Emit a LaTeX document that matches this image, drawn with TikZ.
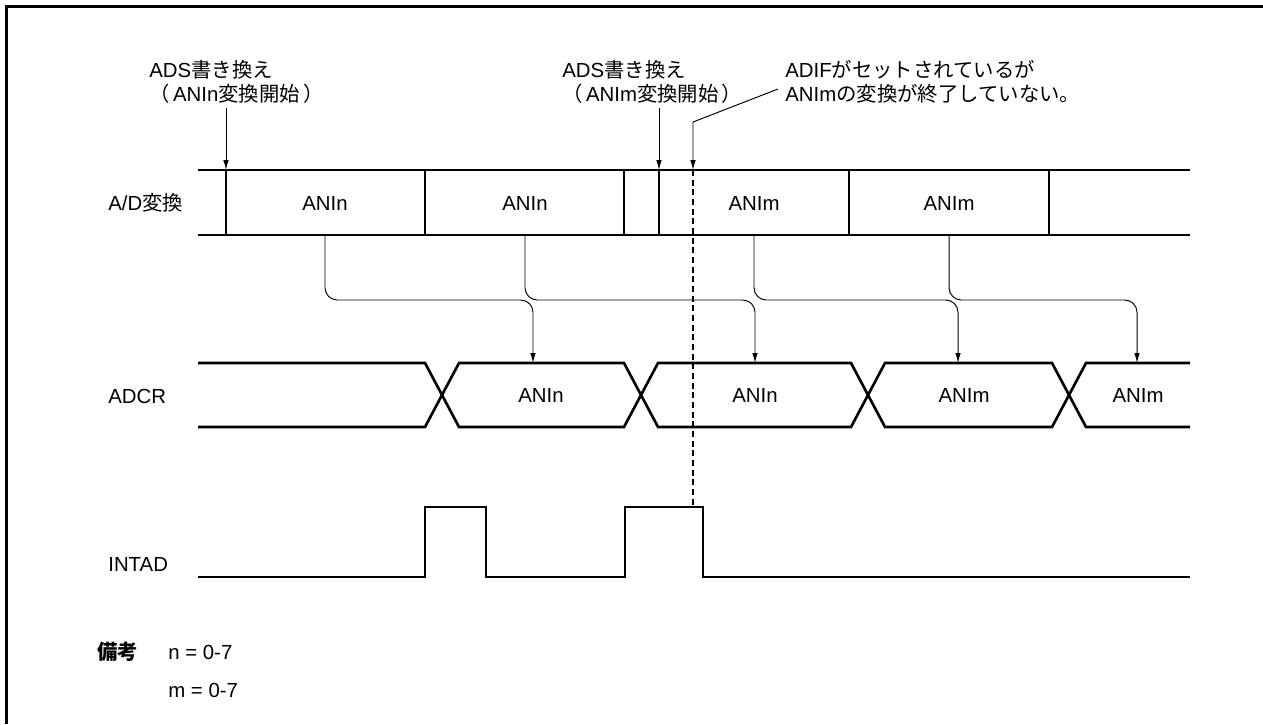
\documentclass[tikz,border=0pt]{standalone}
\usepackage{fontspec}
\setmainfont{Liberation Sans}
\newfontfamily\jp{Noto Sans CJK JP}
\usetikzlibrary{arrows.meta}

\begin{document}
\begin{tikzpicture}[
  x=0.02cm, y=-0.02cm,
  every node/.style={font=\fontsize{11.6}{13.8}\selectfont, inner sep=0pt},
  lbl/.style={anchor=west, align=left},
  sig/.style={line width=1.5pt, line join=miter},
  conn/.style={-{Latex[length=2mm,width=1.1mm]}, line width=0.55pt, rounded corners=7pt},
  lead/.style={-{Latex[length=2mm,width=1.1mm]}, line width=0.55pt},
  frame/.style={line width=1.3pt}
]
\useasboundingbox (0,0) rectangle (1263,724);
\draw[frame] (6.5,724) -- (6.5,6.5) -- (1263,6.5);

% signal names
\node[lbl] (adlbl) at (108,203) {A/D{\jp 変換}};
\node[lbl] (adcrlbl) at (108,396) {ADCR};
\node[lbl] (intadlbl) at (108,564) {INTAD};

% A/D conversion row
\draw[sig] (198,170) -- (1190,170);
\draw[sig] (198,235) -- (1190,235);
\foreach \x in {226,425,624,659,849,1049}
  \draw[sig] (\x,170) -- (\x,235);
\node (ad1) at (325,203) {ANIn};
\node (ad2) at (525,203) {ANIn};
\node (ad3) at (754,203) {ANIm};
\node (ad4) at (949,203) {ANIm};

% ADCR row
\draw[sig] (198,363) -- (425,363) -- (459,427) -- (624,427) -- (658,363) -- (851,363)
  -- (885,427) -- (1052,427) -- (1086,363) -- (1190,363);
\draw[sig] (198,427) -- (425,427) -- (459,363) -- (624,363) -- (658,427) -- (851,427)
  -- (885,363) -- (1052,363) -- (1086,427) -- (1190,427);
\node (cr1) at (541,395) {ANIn};
\node (cr2) at (755,395) {ANIn};
\node (cr3) at (964,395) {ANIm};
\node (cr4) at (1138,395) {ANIm};

% INTAD
\draw[sig] (198,577) -- (425,577) -- (425,507) -- (486,507) -- (486,577) -- (625,577)
  -- (625,507) -- (703,507) -- (703,577) -- (1190,577);

% transfers A/D -> ADCR
\coordinate (adbot) at (0,235);
\coordinate (bend) at (0,300);
\coordinate (in1) at (533,363);
\coordinate (in2) at (755,363);
\coordinate (in3) at (958,363);
\coordinate (in4) at (1137,363);
\foreach \i in {1,...,4}
  \draw[conn] (ad\i |- adbot) |- (in\i |- bend) -- (in\i);

% annotations
\node[lbl] (ads1) at (149,82) {ADS{\jp 書き換え}\\{\jp （}\,ANIn{\jp 変換開始}\,{\jp ）}};
\node[lbl] (ads2) at (562,82) {ADS{\jp 書き換え}\\{\jp （}\,ANIm{\jp 変換開始}\,{\jp ）}};
\node[lbl] (adif) at (785,82) {ADIF{\jp がセットされているが}\\ANIm{\jp の変換が終了していない。}};
\coordinate (ads1top) at (226,108);
\coordinate (ads1tip) at (226,170);
\coordinate (ads2top) at (659,108);
\coordinate (ads2tip) at (659,170);
\coordinate (adifs) at (778,89);
\coordinate (adifk) at (693,122);
\coordinate (adift) at (693,170);
\coordinate (adifb) at (693,507);
\draw[lead] (ads1top) -- (ads1tip);
\draw[lead] (ads2top) -- (ads2tip);
\draw[lead] (adifs) -- (adifk) -- (adift);
\draw[line width=0.7pt, dash pattern=on 3.5pt off 2pt] (adift) -- (adifb);

% note
\node[lbl, font=\fontsize{11.6}{13.8}\selectfont\jp\bfseries] (note) at (97,652) {備考};
\node[lbl] (nval) at (168,652) {n = 0-7};
\node[lbl] (mval) at (168,690) {m = 0-7};
\end{tikzpicture}
\end{document}
